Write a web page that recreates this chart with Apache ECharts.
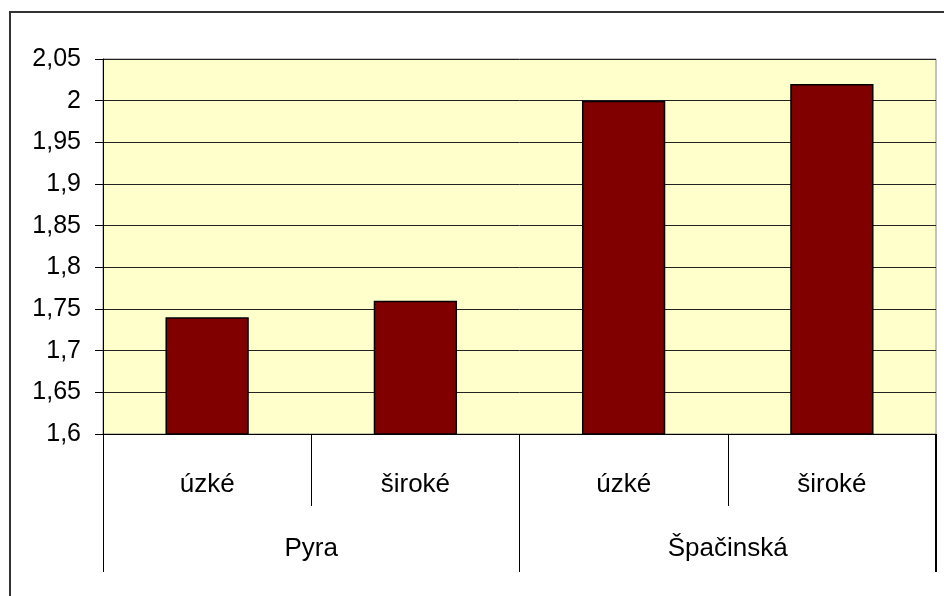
<!DOCTYPE html>
<html>
<head>
<meta charset="utf-8">
<script src="https://cdn.jsdelivr.net/npm/echarts@6/dist/echarts.min.js"></script>
<style>
html,body{margin:0;padding:0;background:#fff;}
#main{width:944px;height:596px;}
</style>
</head>
<body>
<div id="main"></div>
<script>
var typy = ['úzké', 'široké', 'úzké', 'široké'];
var lokality = ['Pyra', 'Špačinská'];
var hodnoty = [1.74, 1.76, 2.0, 2.02];
var yMin = 1.6, yMax = 2.05, yStep = 0.05;

var font = 'Liberation Sans, Arial, sans-serif';
var outerTick = 138;
var myChart = echarts.init(document.getElementById('main'));
var option = {
    backgroundColor: '#fff',
    animation: false,
    graphic: [
        {
            type: 'rect',
            shape: {x: 10, y: 12, width: 1000, height: 1000},
            style: {fill: 'none', stroke: '#333', lineWidth: 2}
        }
    ],
    grid: {
        left: 103, top: 59, right: 8, bottom: 162,
        show: true,
        backgroundColor: '#FFFFCC',
        borderColor: '#888',
        borderWidth: 1
    },
    xAxis: [
        {
            type: 'category',
            data: typy,
            position: 'bottom',
            axisLine: {show: true, lineStyle: {color: '#000', width: 1}},
            axisTick: {show: true, interval: 0, length: 72, lineStyle: {color: '#000'}},
            axisLabel: {color: '#000', fontFamily: font, fontSize: 26, margin: 38}
        },
        {
            type: 'category',
            data: lokality,
            position: 'bottom',
            axisLine: {show: false},
            axisTick: {show: true, interval: 0, length: outerTick, lineStyle: {color: '#000'}},
            axisLabel: {color: '#000', fontFamily: font, fontSize: 26, margin: 102}
        }
    ],
    yAxis: {
        type: 'value',
        min: yMin,
        max: yMax,
        interval: yStep,
        axisLine: {show: true, lineStyle: {color: '#000'}},
        axisTick: {show: true, length: 8, lineStyle: {color: '#000'}},
        axisLabel: {
            color: '#000', fontFamily: font, fontSize: 25, margin: 22,
            formatter: function (v) {
                return String(+v.toFixed(2)).replace('.', ',');
            }
        },
        splitLine: {lineStyle: {color: '#222', width: 1}}
    },
    series: [
        {
            type: 'bar',
            xAxisIndex: 0,
            data: hodnoty,
            barWidth: '40%',
            itemStyle: {color: '#800000', borderColor: '#000', borderWidth: 1.5}
        }
    ]
};
myChart.setOption(option);

// posledni carka vpravo (ECharts ji na kraji nekresli)
var n = typy.length;
var c1 = myChart.convertToPixel({xAxisIndex: 0}, n - 1);
var c0 = myChart.convertToPixel({xAxisIndex: 0}, n - 2);
var xRight = Math.round(c1 + (c1 - c0) / 2) - 0.5;
var yBase = myChart.convertToPixel({yAxisIndex: 0}, yMin);
option.graphic.push({
    type: 'line',
    shape: {x1: xRight, y1: yBase, x2: xRight, y2: yBase + outerTick},
    style: {stroke: '#000', lineWidth: 1}
});
myChart.setOption({graphic: option.graphic});
</script>
</body>
</html>
